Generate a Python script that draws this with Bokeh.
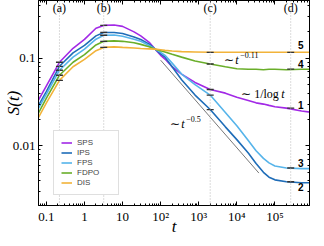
import math
from bokeh.plotting import figure
from bokeh.models import (Range1d, LogAxis, FixedTicker, Span, Label, Legend, LegendItem,
                          CustomJSTickFormatter)
from bokeh.embed import file_html
from bokeh.resources import INLINE

# ---------------- data ----------------
t = [0.05, 0.1, 0.22, 0.5, 1, 2, 3.2, 6, 10, 20, 30, 50, 72, 100, 130, 200, 355, 800,
     2000, 5000, 1e4, 2e4, 3.2e4, 5e4, 7e4, 1e5, 2e5, 5e5, 1e6]

sps = [0.0282, 0.0485, 0.090, 0.130, 0.164, 0.220, 0.237, 0.240, 0.231, 0.200, 0.180, 0.152,
       0.127, 0.108, 0.098, 0.080, 0.066, 0.053, 0.044, 0.040, 0.036, 0.033, 0.031, 0.030,
       0.029, 0.028, 0.027, 0.025, 0.024]
ips = [0.0245, 0.042, 0.081, 0.115, 0.140, 0.180, 0.197, 0.197, 0.192, 0.175, 0.164, 0.145,
       0.127, 0.112, 0.103, 0.080, 0.057, 0.038, 0.026, 0.0165, 0.0118, 0.0083, 0.0063,
       0.0050, 0.0044, 0.0041, 0.0039, 0.0038, 0.0038]
fps = [0.0228, 0.039, 0.073, 0.103, 0.127, 0.165, 0.183, 0.184, 0.178, 0.165, 0.156, 0.140,
       0.127, 0.117, 0.108, 0.088, 0.066, 0.050, 0.038, 0.024, 0.017, 0.0115, 0.0088,
       0.0072, 0.0064, 0.0059, 0.0056, 0.0055, 0.0055]
fdpo = [0.020, 0.035, 0.064, 0.090, 0.110, 0.142, 0.156, 0.158, 0.156, 0.150, 0.144, 0.135,
        0.127, 0.122, 0.118, 0.111, 0.103, 0.093, 0.086, 0.080, 0.076, 0.075, 0.075, 0.074,
        0.075, 0.075, 0.074, 0.075, 0.075]
dis = [0.0178, 0.031, 0.056, 0.080, 0.097, 0.122, 0.133, 0.135, 0.133, 0.131, 0.129, 0.128,
       0.127, 0.125, 0.123, 0.121, 0.119, 0.118, 0.117, 0.117, 0.117, 0.117, 0.117, 0.117,
       0.117, 0.117, 0.117, 0.117, 0.117]

series_names = ["SPS", "IPS", "FPS", "FDPO", "DIS"]
series_values = [sps, ips, fps, fdpo, dis]
series_colors = ["#a229e6", "#1f6db8", "#56b4ea", "#6aae2a", "#f2b33a"]

# marked times (a)-(d) and the curve values at them
mark_t = [0.22, 3.2, 2000, 2.6e5]
mark_names = ["(a)", "(b)", "(c)", "(d)"]
mark_label_s = 0.37
mark_vals = {
    "SPS":  [0.090, 0.237, 0.044, 0.027],
    "IPS":  [0.081, 0.197, 0.026, 0.0039],
    "FPS":  [0.073, 0.183, 0.038, 0.0056],
    "FDPO": [0.064, 0.156, 0.086, 0.075],
    "DIS":  [0.056, 0.133, 0.117, 0.117],
}

# guide line ~ t^-0.5
guide_t = [100, 3.8e4]
guide_s = [0.095, 0.0049]

# right-hand curve numbers
num_labels = ["5", "4", "1", "3", "2"]
num_s = [0.140, 0.086, 0.0295, 0.0063, 0.0034]
num_t = 4.8e5

x_tick_values = [0.1, 1, 10, 100, 1e3, 1e4, 1e5]
x_tick_labels = ["0.1", "1", "10", "10²", "10³", "10⁴", "10⁵"]
y_tick_values = [0.01, 0.1]
y_tick_labels = ["0.01", "0.1"]

# ---------------- figure ----------------
p = figure(width=312, height=238, x_axis_type="log", y_axis_type="log",
           x_range=Range1d(0.062, 8.1e5), y_range=Range1d(0.00209, 0.456),
           output_backend="svg", toolbar_location=None,
           min_border_left=34, min_border_right=3, min_border_top=0, min_border_bottom=30)
p.outline_line_color = "black"
p.xgrid.visible = False
p.ygrid.visible = False
p.background_fill_color = "white"

bottom_ax = p.xaxis[0]
left_ax = p.yaxis[0]

x_minor = [k * 10.0 ** e for e in range(-2, 7) for k in range(2, 10)]
y_minor = [k * 10.0 ** e for e in range(-3, 1) for k in range(2, 10)]

fmt_code = """
const i = vals.findIndex(v => Math.abs(Math.log10(v) - Math.log10(tick)) < 1e-6);
return i >= 0 ? labs[i] : '';
"""
xfmt = CustomJSTickFormatter(args=dict(vals=x_tick_values, labs=x_tick_labels), code=fmt_code)
yfmt = CustomJSTickFormatter(args=dict(vals=y_tick_values, labs=y_tick_labels), code=fmt_code)
blank = CustomJSTickFormatter(code="return '';")


def style_axis(ax, ticks, minor, fmt):
    ax.ticker = FixedTicker(ticks=ticks, minor_ticks=minor)
    ax.formatter = fmt
    ax.major_tick_in = 4
    ax.major_tick_out = 0
    ax.minor_tick_in = 2
    ax.minor_tick_out = 0
    ax.axis_line_color = "black"
    ax.major_tick_line_color = "black"
    ax.minor_tick_line_color = "black"
    ax.major_label_text_font = "Liberation Serif"
    ax.major_label_text_color = "black"
    ax.major_label_text_font_size = "13px"
    ax.major_label_standoff = 3


style_axis(bottom_ax, x_tick_values, x_minor, xfmt)
style_axis(left_ax, y_tick_values, y_minor, yfmt)
top_ax = LogAxis()
right_ax = LogAxis()
style_axis(top_ax, x_tick_values, x_minor, blank)
style_axis(right_ax, y_tick_values, y_minor, blank)
top_ax.major_label_standoff = 0
right_ax.major_label_standoff = 0
p.add_layout(top_ax, "above")
p.add_layout(right_ax, "right")

# axis titles
for ax, lab, st in ((left_ax, "S(t)", -13), (bottom_ax, "t", -10)):
    ax.axis_label = lab
    ax.axis_label_text_font = "Liberation Serif"
    ax.axis_label_text_font_style = "italic"
    ax.axis_label_text_font_size = "17px"
    ax.axis_label_text_color = "black"
    ax.axis_label_standoff = st

# vertical dotted markers
for mt, mn in zip(mark_t, mark_names):
    p.add_layout(Span(location=mt, dimension="height", line_color="#b8b8b8",
                      line_dash="1 2", line_width=1))
    p.add_layout(Label(x=mt, y=mark_label_s, text=mn, text_align="center",
                       text_baseline="middle", text_font="Liberation Serif",
                       text_font_size="12px", text_color="black"))

# curves
renderers = []
for name, vals, col in zip(series_names, series_values, series_colors):
    r = p.line(t, vals, line_color=col, line_width=1.6)
    renderers.append(r)

# guide line
p.line(guide_t, guide_s, line_color="#555555", line_width=0.8)

# error-bar marks
for name in series_names:
    p.scatter(mark_t, mark_vals[name], marker="dash", size=7, line_color="#333333",
              line_width=1.3)


# annotations
def math_label(tx, sy, prefix, tvar_dx, sup, sup_dx):
    p.add_layout(Label(x=tx, y=sy, text=prefix, text_font="Liberation Serif",
                       text_font_size="12px", text_baseline="middle", text_color="black"))
    p.add_layout(Label(x=tx, y=sy, x_offset=tvar_dx, text="t", text_font="Liberation Serif",
                       text_font_style="italic", text_font_size="12px",
                       text_baseline="middle", text_color="black"))
    if sup:
        p.add_layout(Label(x=tx, y=sy, x_offset=sup_dx, y_offset=5, text=sup,
                           text_font="Liberation Serif", text_font_size="8px",
                           text_baseline="middle", text_color="black"))


math_label(4700, 0.095, "∼", 11, "−0.11", 16)
math_label(1.3e4, 0.039, "∼ 1/log", 40, None, 0)
math_label(178, 0.0178, "∼", 11, "−0.5", 16)

for lab, s in zip(num_labels, num_s):
    p.add_layout(Label(x=num_t, y=s, text=lab, text_font="Liberation Sans",
                       text_font_style="bold", text_font_size="10px",
                       text_align="center", text_baseline="middle", text_color="black"))

legend = Legend(items=[LegendItem(label=n, renderers=[r]) for n, r in zip(series_names, renderers)],
                location=(15, 10))
legend.label_text_font = "Liberation Sans"
legend.label_text_font_size = "8px"
legend.glyph_width = 11
legend.glyph_height = 9
legend.label_height = 9
legend.label_width = 34
legend.spacing = 1
legend.padding = 7
legend.margin = 0
legend.label_standoff = 5
legend.border_line_color = "#c0c0c0"
legend.background_fill_alpha = 1
p.add_layout(legend)

open("out.html", "w").write(file_html(p, INLINE))
